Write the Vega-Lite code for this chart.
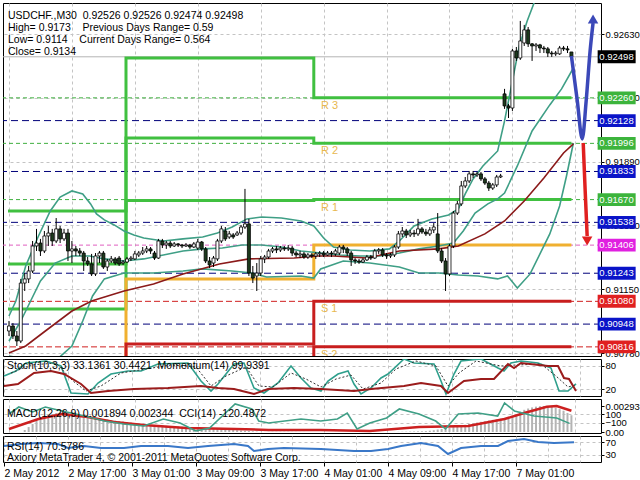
{
"$schema":"https://vega.github.io/schema/vega-lite/v6.json",
"background":"white",
"padding":{"left":2,"top":2,"right":0,"bottom":0},
"spacing":3,
"bounds":"flush",
"config":{
 "view":{"stroke":"#000000","strokeWidth":1},
 "font":"Liberation Sans",
 "axis":{"labelFont":"Liberation Sans","labelFontSize":9.5,"labelColor":"#000000","gridColor":"#c4c4c4","gridDash":[3,3],"domain":false,"tickColor":"#000000","tickSize":3,"labelPadding":1,"zindex":0},
 "title":{"font":"Liberation Sans","fontSize":10.5,"fontWeight":"normal","color":"#000000","anchor":"start","frame":"group","baseline":"top","offset":0,"lineHeight":12}
},
"datasets":{
"candles":[
{"i":0,"o":0.90908,"h":0.90966,"l":0.90879,"c":0.90937,"m":0},
{"i":1,"o":0.90937,"h":0.90954,"l":0.90862,"c":0.90879,"m":0},
{"i":2,"o":0.90879,"h":0.90908,"l":0.90821,"c":0.9085,"m":0},
{"i":3,"o":0.9085,"h":0.9121,"l":0.90838,"c":0.91186,"m":0},
{"i":4,"o":0.91186,"h":0.91244,"l":0.9114,"c":0.9121,"m":0.00023},
{"i":5,"o":0.9121,"h":0.91285,"l":0.91186,"c":0.91256,"m":0.00056},
{"i":6,"o":0.91256,"h":0.9143,"l":0.91244,"c":0.91401,"m":0.0009},
{"i":7,"o":0.91401,"h":0.915,"l":0.91372,"c":0.91418,"m":0.00124},
{"i":8,"o":0.91418,"h":0.91442,"l":0.91343,"c":0.91372,"m":0.00147},
{"i":9,"o":0.91372,"h":0.91488,"l":0.9136,"c":0.91459,"m":0.00169},
{"i":10,"o":0.91459,"h":0.91517,"l":0.91401,"c":0.91476,"m":0.00192},
{"i":11,"o":0.91476,"h":0.915,"l":0.91401,"c":0.9143,"m":0.00203},
{"i":12,"o":0.9143,"h":0.91563,"l":0.91418,"c":0.915,"m":0.00214},
{"i":13,"o":0.915,"h":0.91517,"l":0.91418,"c":0.91442,"m":0.0022},
{"i":14,"o":0.91442,"h":0.915,"l":0.9143,"c":0.91476,"m":0.0022},
{"i":15,"o":0.91476,"h":0.915,"l":0.91314,"c":0.91372,"m":0.00214},
{"i":16,"o":0.91372,"h":0.9143,"l":0.91302,"c":0.91384,"m":0.00208},
{"i":17,"o":0.91384,"h":0.91401,"l":0.91343,"c":0.91372,"m":0.00203},
{"i":18,"o":0.91372,"h":0.91389,"l":0.91343,"c":0.9136,"m":0.00192},
{"i":19,"o":0.9136,"h":0.91372,"l":0.91256,"c":0.91314,"m":0.0018},
{"i":20,"o":0.91314,"h":0.91337,"l":0.91285,"c":0.91297,"m":0.00175},
{"i":21,"o":0.91297,"h":0.91355,"l":0.91227,"c":0.91239,"m":0.00169},
{"i":22,"o":0.91239,"h":0.9136,"l":0.91227,"c":0.91343,"m":0.00158},
{"i":23,"o":0.91343,"h":0.91372,"l":0.91302,"c":0.9136,"m":0.00152},
{"i":24,"o":0.9136,"h":0.91372,"l":0.91268,"c":0.91279,"m":0.00147},
{"i":25,"o":0.91279,"h":0.91326,"l":0.91256,"c":0.91314,"m":0.00141},
{"i":26,"o":0.91314,"h":0.91343,"l":0.91302,"c":0.91326,"m":0.00135},
{"i":27,"o":0.91326,"h":0.91337,"l":0.91291,"c":0.91302,"m":0.0013},
{"i":28,"o":0.91331,"h":0.91343,"l":0.91285,"c":0.91297,"m":0.00124},
{"i":29,"o":0.91302,"h":0.9132,"l":0.91291,"c":0.91308,"m":0.00118},
{"i":30,"o":0.91308,"h":0.91337,"l":0.91302,"c":0.91326,"m":0.00113},
{"i":31,"o":0.91326,"h":0.91343,"l":0.91314,"c":0.91331,"m":0.00107},
{"i":32,"o":0.91326,"h":0.91372,"l":0.9132,"c":0.91355,"m":0.00101},
{"i":33,"o":0.91349,"h":0.91372,"l":0.91337,"c":0.9136,"m":0.00096},
{"i":34,"o":0.9136,"h":0.91395,"l":0.91349,"c":0.91372,"m":0.0009},
{"i":35,"o":0.91372,"h":0.91401,"l":0.9136,"c":0.91384,"m":0.00085},
{"i":36,"o":0.91384,"h":0.91395,"l":0.91355,"c":0.91372,"m":0.00079},
{"i":37,"o":0.9136,"h":0.91372,"l":0.9132,"c":0.91331,"m":0.00079},
{"i":38,"o":0.91331,"h":0.91442,"l":0.91326,"c":0.9143,"m":0.00076},
{"i":39,"o":0.9143,"h":0.91442,"l":0.91389,"c":0.91407,"m":0.00073},
{"i":40,"o":0.91407,"h":0.9143,"l":0.91384,"c":0.91418,"m":0.0007},
{"i":41,"o":0.91418,"h":0.9143,"l":0.91389,"c":0.91401,"m":0.00068},
{"i":42,"o":0.91401,"h":0.91424,"l":0.91395,"c":0.91413,"m":0.00065},
{"i":43,"o":0.91413,"h":0.91418,"l":0.91395,"c":0.91407,"m":0.00062},
{"i":44,"o":0.91407,"h":0.91413,"l":0.91389,"c":0.91401,"m":0.00059},
{"i":45,"o":0.91401,"h":0.91418,"l":0.91395,"c":0.91407,"m":0.00056},
{"i":46,"o":0.91407,"h":0.91413,"l":0.91384,"c":0.91395,"m":0.00054},
{"i":47,"o":0.91395,"h":0.91424,"l":0.91389,"c":0.91413,"m":0.00051},
{"i":48,"o":0.91389,"h":0.91442,"l":0.91378,"c":0.91424,"m":0.00048},
{"i":49,"o":0.91424,"h":0.9143,"l":0.91372,"c":0.91384,"m":0.00045},
{"i":50,"o":0.91384,"h":0.91395,"l":0.91302,"c":0.91314,"m":0.00042},
{"i":51,"o":0.91314,"h":0.91337,"l":0.91273,"c":0.91291,"m":0.00039},
{"i":52,"o":0.91302,"h":0.91343,"l":0.91279,"c":0.91331,"m":0.00037},
{"i":53,"o":0.91326,"h":0.91442,"l":0.91314,"c":0.9143,"m":0.00034},
{"i":54,"o":0.9143,"h":0.91517,"l":0.91418,"c":0.915,"m":0.00031},
{"i":55,"o":0.91488,"h":0.91511,"l":0.9143,"c":0.91442,"m":0.00028},
{"i":56,"o":0.91453,"h":0.91488,"l":0.91442,"c":0.91471,"m":0.00025},
{"i":57,"o":0.91465,"h":0.91476,"l":0.91442,"c":0.91453,"m":0.00023},
{"i":58,"o":0.91465,"h":0.91488,"l":0.91459,"c":0.91476,"m":0.0002},
{"i":59,"o":0.91476,"h":0.91523,"l":0.91465,"c":0.91511,"m":0.00017},
{"i":60,"o":0.91511,"h":0.91732,"l":0.915,"c":0.91529,"m":0.00014},
{"i":61,"o":0.91529,"h":0.91558,"l":0.91227,"c":0.91244,"m":0.00011},
{"i":62,"o":0.91244,"h":0.91285,"l":0.91186,"c":0.91215,"m":0.00008},
{"i":63,"o":0.91227,"h":0.91302,"l":0.9114,"c":0.91244,"m":0.00005},
{"i":64,"o":0.91244,"h":0.91343,"l":0.91227,"c":0.91326,"m":0.00002},
{"i":65,"o":0.91326,"h":0.91349,"l":0.91302,"c":0.91337,"m":0.00001},
{"i":66,"o":0.91337,"h":0.91384,"l":0.91326,"c":0.91372,"m":0.00002},
{"i":67,"o":0.91372,"h":0.91395,"l":0.9136,"c":0.91384,"m":0.00003},
{"i":68,"o":0.91384,"h":0.91401,"l":0.9136,"c":0.91378,"m":0.00003},
{"i":69,"o":0.91378,"h":0.91401,"l":0.91366,"c":0.91389,"m":0.00003},
{"i":70,"o":0.91389,"h":0.91401,"l":0.91372,"c":0.91384,"m":0.00003},
{"i":71,"o":0.91384,"h":0.91407,"l":0.91372,"c":0.91389,"m":0.00003},
{"i":72,"o":0.91389,"h":0.91401,"l":0.91343,"c":0.9136,"m":0.00002},
{"i":73,"o":0.9136,"h":0.91372,"l":0.91337,"c":0.91349,"m":0.00002},
{"i":74,"o":0.91349,"h":0.91372,"l":0.91331,"c":0.91355,"m":0.00001},
{"i":75,"o":0.91355,"h":0.91366,"l":0.91326,"c":0.91337,"m":0.00001},
{"i":76,"o":0.91337,"h":0.9136,"l":0.91326,"c":0.91349,"m":0},
{"i":77,"o":0.91349,"h":0.9136,"l":0.91331,"c":0.91343,"m":0},
{"i":78,"o":0.91343,"h":0.91366,"l":0.91326,"c":0.91355,"m":0},
{"i":79,"o":0.91355,"h":0.91372,"l":0.91337,"c":0.9136,"m":0},
{"i":80,"o":0.9136,"h":0.91372,"l":0.91337,"c":0.91349,"m":0},
{"i":81,"o":0.91349,"h":0.91372,"l":0.91343,"c":0.9136,"m":0},
{"i":82,"o":0.9136,"h":0.91372,"l":0.91337,"c":0.91355,"m":0},
{"i":83,"o":0.91355,"h":0.91384,"l":0.91343,"c":0.91372,"m":0.00001},
{"i":84,"o":0.9136,"h":0.91407,"l":0.91349,"c":0.91395,"m":0.00001},
{"i":85,"o":0.91395,"h":0.91407,"l":0.9136,"c":0.91384,"m":0.00001},
{"i":86,"o":0.91384,"h":0.91395,"l":0.91343,"c":0.9136,"m":0.00001},
{"i":87,"o":0.9136,"h":0.91372,"l":0.91285,"c":0.9132,"m":0},
{"i":88,"o":0.9132,"h":0.91331,"l":0.91297,"c":0.91314,"m":0},
{"i":89,"o":0.91314,"h":0.91326,"l":0.91297,"c":0.91308,"m":0},
{"i":90,"o":0.91308,"h":0.91331,"l":0.91302,"c":0.9132,"m":0},
{"i":91,"o":0.9132,"h":0.91349,"l":0.91314,"c":0.91337,"m":0},
{"i":92,"o":0.91337,"h":0.91349,"l":0.9132,"c":0.91331,"m":0},
{"i":93,"o":0.91331,"h":0.91384,"l":0.91326,"c":0.91372,"m":0},
{"i":94,"o":0.91372,"h":0.91389,"l":0.91355,"c":0.91378,"m":0},
{"i":95,"o":0.91378,"h":0.91389,"l":0.91337,"c":0.91349,"m":0},
{"i":96,"o":0.91349,"h":0.9136,"l":0.91326,"c":0.91343,"m":0},
{"i":97,"o":0.91343,"h":0.9136,"l":0.91331,"c":0.91349,"m":0},
{"i":98,"o":0.91349,"h":0.91407,"l":0.91337,"c":0.91395,"m":0.00001},
{"i":99,"o":0.91395,"h":0.91488,"l":0.91384,"c":0.91471,"m":0.00002},
{"i":100,"o":0.91471,"h":0.91511,"l":0.91453,"c":0.91488,"m":0.00003},
{"i":101,"o":0.91488,"h":0.915,"l":0.91447,"c":0.91465,"m":0.00004},
{"i":102,"o":0.91465,"h":0.91494,"l":0.91453,"c":0.91476,"m":0.00005},
{"i":103,"o":0.91476,"h":0.91494,"l":0.91453,"c":0.91471,"m":0.00006},
{"i":104,"o":0.91471,"h":0.91558,"l":0.91459,"c":0.915,"m":0.00007},
{"i":105,"o":0.915,"h":0.91511,"l":0.91471,"c":0.91482,"m":0.00008},
{"i":106,"o":0.91482,"h":0.915,"l":0.91459,"c":0.91471,"m":0.0001},
{"i":107,"o":0.91471,"h":0.91511,"l":0.91459,"c":0.91494,"m":0.00015},
{"i":108,"o":0.91494,"h":0.91534,"l":0.91476,"c":0.91511,"m":0.0002},
{"i":109,"o":0.91471,"h":0.91592,"l":0.9136,"c":0.91372,"m":0.00028},
{"i":110,"o":0.91372,"h":0.91389,"l":0.91302,"c":0.91314,"m":0.00034},
{"i":111,"o":0.91314,"h":0.91331,"l":0.9114,"c":0.91239,"m":0.0004},
{"i":112,"o":0.91239,"h":0.91413,"l":0.91227,"c":0.91401,"m":0.00048},
{"i":113,"o":0.91401,"h":0.91604,"l":0.91389,"c":0.91592,"m":0.00056},
{"i":114,"o":0.91592,"h":0.91662,"l":0.91581,"c":0.91645,"m":0.00065},
{"i":115,"o":0.91645,"h":0.91778,"l":0.91633,"c":0.91749,"m":0.00073},
{"i":116,"o":0.91749,"h":0.91801,"l":0.91737,"c":0.91778,"m":0.00082},
{"i":117,"o":0.91778,"h":0.91836,"l":0.91766,"c":0.91819,"m":0.0009},
{"i":118,"o":0.91819,"h":0.91836,"l":0.91795,"c":0.91813,"m":0.00098},
{"i":119,"o":0.91813,"h":0.9183,"l":0.91801,"c":0.91819,"m":0.00107},
{"i":120,"o":0.91819,"h":0.9183,"l":0.91778,"c":0.9179,"m":0.00115},
{"i":121,"o":0.9179,"h":0.91801,"l":0.91755,"c":0.91766,"m":0.00122},
{"i":122,"o":0.91766,"h":0.91778,"l":0.9172,"c":0.91737,"m":0.0013},
{"i":123,"o":0.91737,"h":0.91766,"l":0.91726,"c":0.91755,"m":0.00137},
{"i":124,"o":0.91755,"h":0.91813,"l":0.91743,"c":0.91801,"m":0.00144},
{"i":125,"o":0.91801,"h":0.91819,"l":0.91795,"c":0.91807,"m":0.0015},
{"i":126,"o":0.92283,"h":0.92312,"l":0.92196,"c":0.92213,"m":0.0016},
{"i":127,"o":0.92213,"h":0.92225,"l":0.92143,"c":0.92201,"m":0.0017},
{"i":128,"o":0.92201,"h":0.92544,"l":0.92184,"c":0.92532,"m":0.00185},
{"i":129,"o":0.92532,"h":0.92555,"l":0.92474,"c":0.92491,"m":0.002},
{"i":130,"o":0.92491,"h":0.92706,"l":0.9248,"c":0.9259,"m":0.0023},
{"i":131,"o":0.92578,"h":0.92683,"l":0.92561,"c":0.92654,"m":0.0025},
{"i":132,"o":0.92654,"h":0.92671,"l":0.92555,"c":0.92573,"m":0.00265},
{"i":133,"o":0.92573,"h":0.92578,"l":0.92474,"c":0.92561,"m":0.00277},
{"i":134,"o":0.92561,"h":0.92578,"l":0.92532,"c":0.92567,"m":0.00286},
{"i":135,"o":0.92567,"h":0.92573,"l":0.9252,"c":0.92549,"m":0.00291},
{"i":136,"o":0.92549,"h":0.92561,"l":0.9252,"c":0.92544,"m":0.00293},
{"i":137,"o":0.92544,"h":0.92555,"l":0.92497,"c":0.9252,"m":0.0029},
{"i":138,"o":0.9252,"h":0.92532,"l":0.92497,"c":0.92515,"m":0.00283},
{"i":139,"o":0.92515,"h":0.92532,"l":0.92503,"c":0.9252,"m":0.00272},
{"i":140,"o":0.92515,"h":0.92561,"l":0.92509,"c":0.92549,"m":0.00258},
{"i":141,"o":0.92549,"h":0.92561,"l":0.92532,"c":0.92544,"m":0.0024},
{"i":142,"o":0.92544,"h":0.92561,"l":0.9252,"c":0.92538,"m":0.00215},
{"i":143,"o":0.92526,"h":0.92526,"l":0.92474,"c":0.92498,"m":0.00189}
],
"bands":[
{"s":"U","i":0,"p":0.90995},{"s":"U","i":1.75,"p":0.91082},{"s":"U","i":4.25,"p":0.91285},{"s":"U","i":7.5,"p":0.91459},{"s":"U","i":10.5,"p":0.91604},{"s":"U","i":13,"p":0.91685},{"s":"U","i":16,"p":0.9172},{"s":"U","i":18.75,"p":0.91703},{"s":"U","i":20.75,"p":0.91645},{"s":"U","i":22.25,"p":0.91587},{"s":"U","i":24.25,"p":0.91552},{"s":"U","i":26.75,"p":0.91523},{"s":"U","i":29.25,"p":0.91488},{"s":"U","i":31.75,"p":0.91465},{"s":"U","i":34.25,"p":0.91447},{"s":"U","i":39.25,"p":0.9143},{"s":"U","i":44.25,"p":0.91442},{"s":"U","i":49.25,"p":0.91453},{"s":"U","i":53,"p":0.91476},{"s":"U","i":56.75,"p":0.91511},{"s":"U","i":60.5,"p":0.91558},{"s":"U","i":64.25,"p":0.91569},{"s":"U","i":69.25,"p":0.91563},{"s":"U","i":74.25,"p":0.91546},{"s":"U","i":77.5,"p":0.91517},{"s":"U","i":80,"p":0.91447},{"s":"U","i":82.5,"p":0.91395},{"s":"U","i":86.75,"p":0.91378},{"s":"U","i":91.75,"p":0.91372},{"s":"U","i":96.75,"p":0.91384},{"s":"U","i":99.25,"p":0.9143},{"s":"U","i":103,"p":0.91517},{"s":"U","i":107.5,"p":0.91558},{"s":"U","i":111.75,"p":0.91581},{"s":"U","i":114.25,"p":0.91616},{"s":"U","i":116,"p":0.91703},{"s":"U","i":118,"p":0.9179},{"s":"U","i":120.5,"p":0.91865},{"s":"U","i":124.25,"p":0.91952},{"s":"U","i":126,"p":0.92126},{"s":"U","i":128,"p":0.92358},{"s":"U","i":129.75,"p":0.92561},{"s":"U","i":131.75,"p":0.92706},{"s":"U","i":133.5,"p":0.9281},{"s":"U","i":135.5,"p":0.92938},
{"s":"M","i":0,"p":0.9085},{"s":"M","i":3,"p":0.90966},{"s":"M","i":5.5,"p":0.91082},{"s":"M","i":8,"p":0.91198},{"s":"M","i":11.75,"p":0.91302},{"s":"M","i":16,"p":0.91343},{"s":"M","i":20.5,"p":0.91343},{"s":"M","i":24.25,"p":0.91326},{"s":"M","i":29.25,"p":0.91314},{"s":"M","i":34.25,"p":0.91326},{"s":"M","i":39.25,"p":0.91349},{"s":"M","i":44.25,"p":0.91372},{"s":"M","i":49.25,"p":0.91384},{"s":"M","i":54.25,"p":0.91389},{"s":"M","i":59.25,"p":0.91407},{"s":"M","i":64.25,"p":0.91407},{"s":"M","i":69.25,"p":0.91395},{"s":"M","i":74.25,"p":0.91372},{"s":"M","i":79.25,"p":0.9136},{"s":"M","i":84.25,"p":0.91349},{"s":"M","i":89.25,"p":0.91343},{"s":"M","i":94.25,"p":0.91343},{"s":"M","i":99.25,"p":0.9136},{"s":"M","i":104.25,"p":0.91384},{"s":"M","i":109.25,"p":0.91401},{"s":"M","i":113,"p":0.91418},{"s":"M","i":115.5,"p":0.91488},{"s":"M","i":118.5,"p":0.91592},{"s":"M","i":121.75,"p":0.91645},{"s":"M","i":124.25,"p":0.91674},{"s":"M","i":126,"p":0.91708},{"s":"M","i":129.25,"p":0.91865},{"s":"M","i":133,"p":0.92068},{"s":"M","i":137.5,"p":0.92219},{"s":"M","i":140.5,"p":0.92312},{"s":"M","i":143.5,"p":0.92433},
{"s":"L","i":0,"p":0.90763},{"s":"L","i":6.75,"p":0.90734},{"s":"L","i":11.75,"p":0.90734},{"s":"L","i":16,"p":0.90821},{"s":"L","i":18.75,"p":0.90966},{"s":"L","i":21.25,"p":0.91111},{"s":"L","i":24.25,"p":0.9121},{"s":"L","i":29.25,"p":0.91244},{"s":"L","i":36.75,"p":0.91244},{"s":"L","i":44.25,"p":0.91256},{"s":"L","i":49.25,"p":0.91268},{"s":"L","i":56.75,"p":0.91256},{"s":"L","i":61.75,"p":0.91244},{"s":"L","i":65.5,"p":0.91221},{"s":"L","i":74.25,"p":0.91227},{"s":"L","i":77.5,"p":0.91215},{"s":"L","i":79.25,"p":0.91268},{"s":"L","i":85,"p":0.91314},{"s":"L","i":91.75,"p":0.91302},{"s":"L","i":99.25,"p":0.91279},{"s":"L","i":104.25,"p":0.91244},{"s":"L","i":109.25,"p":0.91244},{"s":"L","i":114.25,"p":0.91233},{"s":"L","i":119.25,"p":0.91227},{"s":"L","i":124.25,"p":0.9121},{"s":"L","i":126.75,"p":0.91227},{"s":"L","i":129.25,"p":0.91157},{"s":"L","i":132.5,"p":0.91239},{"s":"L","i":137.5,"p":0.91471},{"s":"L","i":140,"p":0.91633},{"s":"L","i":141.75,"p":0.91807},{"s":"L","i":143.5,"p":0.91998},
{"s":"MA","i":0,"p":0.9078},{"s":"MA","i":4.25,"p":0.90821},{"s":"MA","i":9.25,"p":0.90908},{"s":"MA","i":16,"p":0.91024},{"s":"MA","i":21,"p":0.91082},{"s":"MA","i":29.25,"p":0.9114},{"s":"MA","i":36.75,"p":0.91181},{"s":"MA","i":44.25,"p":0.91239},{"s":"MA","i":53.5,"p":0.91297},{"s":"MA","i":61,"p":0.91326},{"s":"MA","i":72.5,"p":0.91331},{"s":"MA","i":78.5,"p":0.91343},{"s":"MA","i":82.5,"p":0.91343},{"s":"MA","i":91,"p":0.91331},{"s":"MA","i":99.25,"p":0.91372},{"s":"MA","i":109.25,"p":0.91384},{"s":"MA","i":114.25,"p":0.91401},{"s":"MA","i":121,"p":0.91471},{"s":"MA","i":126,"p":0.91546},{"s":"MA","i":131,"p":0.91662},{"s":"MA","i":136,"p":0.91795},{"s":"MA","i":141,"p":0.9194},{"s":"MA","i":143.5,"p":0.91993}
],
"pivots":[
{"lvl":"R3","i":-0.25,"p":0.91604},{"lvl":"R3","i":29.75,"p":0.92491},{"lvl":"R3","i":77.5,"p":0.9226},{"lvl":"R3","i":143,"p":0.9226},
{"lvl":"R2","i":-0.25,"p":0.91297},{"lvl":"R2","i":29.75,"p":0.92027},{"lvl":"R2","i":77.5,"p":0.91996},{"lvl":"R2","i":143,"p":0.91996},
{"lvl":"R1","i":-0.25,"p":0.91036},{"lvl":"R1","i":29.75,"p":0.91665},{"lvl":"R1","i":77.5,"p":0.9167},{"lvl":"R1","i":143,"p":0.9167},
{"lvl":"P","i":-0.25,"p":0.906},{"lvl":"P","i":29.75,"p":0.9121},{"lvl":"P","i":77.5,"p":0.91406},{"lvl":"P","i":143,"p":0.91406},
{"lvl":"S1","i":-0.25,"p":0.904},{"lvl":"S1","i":29.75,"p":0.90833},{"lvl":"S1","i":77.5,"p":0.9108},{"lvl":"S1","i":143,"p":0.9108},
{"lvl":"S2","i":-0.25,"p":0.902},{"lvl":"S2","i":29.75,"p":0.904},{"lvl":"S2","i":77.5,"p":0.90816},{"lvl":"S2","i":143,"p":0.90816}
],
"levels":[
{"kind":"bid","p":0.92498},{"kind":"R","p":0.9226},{"kind":"M","p":0.92128},{"kind":"R","p":0.91996},{"kind":"M","p":0.91833},{"kind":"R","p":0.9167},{"kind":"M","p":0.91538},{"kind":"P","p":0.91406},{"kind":"M","p":0.91243},{"kind":"S","p":0.9108},{"kind":"M","p":0.90948},{"kind":"S","p":0.90816}
],
"plabels":[{"t":"R 3","p":0.9226},{"t":"R 2","p":0.91996},{"t":"R 1","p":0.9167},{"t":"S 1","p":0.9108},{"t":"S 2","p":0.90816}],
"arrows":[
{"s":"up","i":143,"p":0.92503},{"s":"up","i":144.5,"p":0.92242},{"s":"up","i":145.75,"p":0.92022},{"s":"up","i":146.75,"p":0.92242},{"s":"up","i":147.75,"p":0.92532},{"s":"up","i":148.5,"p":0.92694},
{"s":"down","i":146,"p":0.91998},{"s":"down","i":146.5,"p":0.9172},{"s":"down","i":147,"p":0.91459}
],
"heads":[{"s":"up","i":148.5,"p":0.92717},{"s":"down","i":147,"p":0.9143}],
"stochK":[
{"i":0,"v":53.2},{"i":3,"v":66},{"i":5.5,"v":86.4},{"i":10.5,"v":91.5},{"i":14.25,"v":78.7},{"i":16.75,"v":9.8},{"i":21,"v":7.2},{"i":23.5,"v":35.3},{"i":26.75,"v":58.3},{"i":31,"v":66},{"i":34.25,"v":66},{"i":38.5,"v":83.8},{"i":46,"v":86.4},{"i":49.25,"v":40.4},{"i":51.75,"v":14.9},{"i":53.5,"v":32.8},{"i":57.5,"v":83.8},{"i":60,"v":86.4},{"i":62.5,"v":22.6},{"i":65,"v":9.8},{"i":68.5,"v":35.3},{"i":71.75,"v":78.7},{"i":74.25,"v":48.1},{"i":76.75,"v":22.6},{"i":79.25,"v":14.9},{"i":81,"v":40.4},{"i":83.5,"v":58.3},{"i":86,"v":66},{"i":87.5,"v":32.8},{"i":89.25,"v":7.2},{"i":91.75,"v":22.6},{"i":94.25,"v":48.1},{"i":96,"v":58.3},{"i":100,"v":96.6},{"i":102.5,"v":86.4},{"i":107.5,"v":83.8},{"i":109.25,"v":40.4},{"i":110.5,"v":7.2},{"i":112.5,"v":58.3},{"i":114.25,"v":91.5},{"i":119.25,"v":96.6},{"i":123.5,"v":73.6},{"i":125,"v":66},{"i":126.75,"v":86.4},{"i":129.25,"v":91.5},{"i":133.5,"v":86.4},{"i":136.75,"v":73.6},{"i":138.75,"v":14.9},{"i":141,"v":14.9},{"i":143,"v":33.1361}
],
"stochD":[
{"i":1.75,"v":60.9},{"i":6.75,"v":81.3},{"i":13,"v":86.4},{"i":17.25,"v":40.4},{"i":20.5,"v":14.9},{"i":24.25,"v":27.7},{"i":29.25,"v":60.9},{"i":35.5,"v":71.1},{"i":41.75,"v":81.3},{"i":48,"v":76.2},{"i":51.75,"v":27.7},{"i":55.5,"v":53.2},{"i":60.5,"v":76.2},{"i":63.75,"v":27.7},{"i":67.25,"v":25.1},{"i":71.75,"v":60.9},{"i":75.5,"v":45.5},{"i":79.25,"v":25.1},{"i":83,"v":45.5},{"i":86.75,"v":55.7},{"i":89.75,"v":20},{"i":94.25,"v":35.3},{"i":98,"v":71.1},{"i":103,"v":91.5},{"i":108,"v":78.7},{"i":111,"v":27.7},{"i":113.75,"v":60.9},{"i":118,"v":91.5},{"i":124.25,"v":78.7},{"i":128,"v":81.3},{"i":134.25,"v":83.8},{"i":138,"v":53.2},{"i":141,"v":25.1},{"i":143,"v":30.4421}
],
"mom":[
{"i":0,"v":100.039},{"i":3.5,"v":100.079},{"i":7.5,"v":100.299},{"i":11.75,"v":100.339},{"i":15,"v":100.279},{"i":19.25,"v":100.079},{"i":21.75,"v":99.899},{"i":26,"v":99.939},{"i":32.5,"v":99.979},{"i":41,"v":99.999},{"i":49.25,"v":100.039},{"i":53.5,"v":99.999},{"i":57.5,"v":99.979},{"i":62.5,"v":99.879},{"i":66,"v":99.979},{"i":72.5,"v":99.999},{"i":79.25,"v":99.979},{"i":87.5,"v":99.939},{"i":91.75,"v":99.979},{"i":100,"v":100.039},{"i":104.25,"v":100.099},{"i":109.25,"v":100.039},{"i":111,"v":99.899},{"i":115,"v":100.139},{"i":119.25,"v":100.179},{"i":122.5,"v":100.179},{"i":126,"v":100.479},{"i":127.5,"v":100.399},{"i":129.25,"v":100.499},{"i":136,"v":100.439},{"i":138.5,"v":100.439},{"i":140,"v":100.199},{"i":141.25,"v":100.179},{"i":143,"v":99.9391}
],
"sig":[
{"i":0,"v":0.00034},{"i":7.5,"v":0.00147},{"i":13.5,"v":0.00203},{"i":20,"v":0.00169},{"i":26.75,"v":0.00113},{"i":34.25,"v":0.00079},{"i":45,"v":0.00045},{"i":57.5,"v":0.00034},{"i":66,"v":0.00023},{"i":79.25,"v":0.00023},{"i":91.75,"v":0.00011},{"i":104.25,"v":0.00056},{"i":116.75,"v":0.00068},{"i":126,"v":0.00147},{"i":131,"v":0.00214},{"i":136.75,"v":0.00285},{"i":139.25,"v":0.00293},{"i":143,"v":0.0024}
],
"cci":[
{"i":0,"v":100},{"i":2.5,"v":265},{"i":6,"v":147},{"i":9.25,"v":265},{"i":13.5,"v":171},{"i":19.25,"v":53},{"i":24.25,"v":-65},{"i":29.25,"v":-135},{"i":34.25,"v":-182},{"i":39.25,"v":-18},{"i":43.5,"v":-112},{"i":47.5,"v":-300},{"i":51,"v":-229},{"i":57.5,"v":335},{"i":61.75,"v":218},{"i":63.5,"v":-65},{"i":66,"v":-112},{"i":74.25,"v":-18},{"i":79.25,"v":-65},{"i":83.5,"v":-18},{"i":86,"v":124},{"i":88.5,"v":-253},{"i":91.75,"v":-112},{"i":96,"v":6},{"i":99.25,"v":218},{"i":104.25,"v":100},{"i":108.5,"v":-65},{"i":111,"v":-253},{"i":114.25,"v":100},{"i":119.25,"v":124},{"i":124.25,"v":53},{"i":126,"v":359},{"i":128.5,"v":171},{"i":133.5,"v":53},{"i":139.25,"v":6},{"i":142.5,"v":-120.4872}
],
"rsi":[
{"i":0,"v":58.3},{"i":4.25,"v":65},{"i":8.5,"v":68.3},{"i":13.5,"v":65},{"i":16,"v":51.7},{"i":20,"v":58.3},{"i":24.25,"v":51.7},{"i":30,"v":51.7},{"i":34.25,"v":58.3},{"i":41,"v":58.3},{"i":46,"v":51.7},{"i":51,"v":58.3},{"i":57.5,"v":65},{"i":61,"v":58.3},{"i":62.5,"v":41.7},{"i":66,"v":48.4},{"i":70,"v":51.7},{"i":79.25,"v":48.4},{"i":87.5,"v":41.7},{"i":91.75,"v":41.7},{"i":96,"v":48.4},{"i":99.25,"v":58.3},{"i":104.25,"v":68.3},{"i":108.5,"v":58.3},{"i":111,"v":31.7},{"i":114.25,"v":51.7},{"i":119.25,"v":58.3},{"i":123.5,"v":58.3},{"i":126,"v":75},{"i":130,"v":81.7},{"i":133.5,"v":71.7},{"i":137.5,"v":68.3},{"i":142.5,"v":70.5786}
]
},
"vconcat":[
{
 "width":598,"height":353,
 "title":{"text":["USDCHF.,M30\u00a0\u00a00.92526 0.92526 0.92474 0.92498","High= 0.9173\u00a0\u00a0\u00a0\u00a0Previous Days Range= 0.59","Low= 0.9114\u00a0\u00a0\u00a0\u00a0Current Days Range= 0.564","Close= 0.9134"],"dx":5,"dy":2,"offset":-52},
 "resolve":{"scale":{"color":"independent","strokeDash":"independent","shape":"independent","strokeWidth":"independent"}},
 "layer":[
  {"data":{"name":"levels"},"mark":{"type":"rule","strokeWidth":1},
   "encoding":{
    "y":{"field":"p","type":"quantitative","scale":{"domain":[0.90763,0.9281],"nice":false,"zero":false},"axis":{"orient":"right","values":[0.9078,0.90965,0.9115,0.91335,0.9152,0.91705,0.9189,0.92075,0.9226,0.92445,0.9263],"format":".5f","title":null,"grid":true}},
    "color":{"field":"kind","type":"nominal","scale":{"domain":["bid","R","M","P","S"],"range":["#b4b4b4","#40b040","#00007a","#e060c0","#d02020"]},"legend":null},
    "strokeDash":{"field":"kind","type":"nominal","scale":{"domain":["bid","R","M","P","S"],"range":[[1,0],[4,3],[7,4],[4,3],[6,3]]},"legend":null}}},
  {"data":{"name":"pivots"},"mark":{"type":"line","interpolate":"step-after","strokeWidth":3,"clip":true},
   "encoding":{
    "x":{"field":"i","type":"quantitative","scale":{"domain":[-0.25,149.25],"nice":false,"zero":false},"axis":{"values":[0,8,16,24,32,40,48,56,64,72,80,88,96,104,112,120,128,136,144],"labels":false,"ticks":false,"grid":true,"title":null}},
    "y":{"field":"p","type":"quantitative","scale":{"domain":[0.90763,0.9281],"nice":false,"zero":false}},
    "color":{"field":"lvl","type":"nominal","scale":{"domain":["R3","R2","R1","P","S1","S2"],"range":["#40c040","#40c040","#40c040","#f0b030","#c81e1e","#c81e1e"]},"legend":null}}},
  {"data":{"name":"plabels"},"mark":{"type":"text","align":"left","baseline":"middle","dy":8,"fontSize":11,"color":"#e8b850","font":"Liberation Sans","clip":true},
   "encoding":{
    "x":{"datum":79.3,"type":"quantitative","scale":{"domain":[-0.25,149.25],"nice":false,"zero":false}},
    "y":{"field":"p","type":"quantitative","scale":{"domain":[0.90763,0.9281],"nice":false,"zero":false}},
    "text":{"field":"t","type":"nominal"}}},
  {"data":{"name":"bands"},"mark":{"type":"line","clip":true},
   "encoding":{
    "x":{"field":"i","type":"quantitative","scale":{"domain":[-0.25,149.25],"nice":false,"zero":false}},
    "y":{"field":"p","type":"quantitative","scale":{"domain":[0.90763,0.9281],"nice":false,"zero":false}},
    "color":{"field":"s","type":"nominal","scale":{"domain":["U","M","L","MA"],"range":["#3f9f86","#3f9f86","#3f9f86","#8b1a1a"]},"legend":null},
    "strokeWidth":{"field":"s","type":"nominal","scale":{"domain":["U","M","L","MA"],"range":[1.6,1.6,1.6,2.2]},"legend":null}}},
  {"data":{"name":"candles"},"mark":{"type":"rule","color":"#000000","strokeWidth":1},
   "encoding":{
    "x":{"field":"i","type":"quantitative","scale":{"domain":[-0.25,149.25],"nice":false,"zero":false}},
    "y":{"field":"l","type":"quantitative","scale":{"domain":[0.90763,0.9281],"nice":false,"zero":false}},
    "y2":{"field":"h"}}},
  {"data":{"name":"candles"},"mark":{"type":"bar","width":3,"stroke":"#000000","strokeWidth":0.8},
   "encoding":{
    "x":{"field":"i","type":"quantitative","scale":{"domain":[-0.25,149.25],"nice":false,"zero":false}},
    "y":{"field":"o","type":"quantitative","scale":{"domain":[0.90763,0.9281],"nice":false,"zero":false}},
    "y2":{"field":"c"},
    "fill":{"condition":{"test":"datum.c >= datum.o","value":"#ffffff"},"value":"#1c3a1c"}}},
  {"data":{"name":"arrows"},"mark":{"type":"line","strokeWidth":3.5,"interpolate":"monotone"},
   "encoding":{
    "x":{"field":"i","type":"quantitative","scale":{"domain":[-0.25,149.25],"nice":false,"zero":false}},
    "y":{"field":"p","type":"quantitative","scale":{"domain":[0.90763,0.9281],"nice":false,"zero":false}},
    "color":{"field":"s","type":"nominal","scale":{"domain":["up","down"],"range":["#3b48b8","#e02020"]},"legend":null}}},
  {"data":{"name":"heads"},"mark":{"type":"point","filled":true,"opacity":1,"size":110},
   "encoding":{
    "x":{"field":"i","type":"quantitative","scale":{"domain":[-0.25,149.25],"nice":false,"zero":false}},
    "y":{"field":"p","type":"quantitative","scale":{"domain":[0.90763,0.9281],"nice":false,"zero":false}},
    "shape":{"field":"s","type":"nominal","scale":{"domain":["up","down"],"range":["triangle-up","triangle-down"]},"legend":null},
    "color":{"field":"s","type":"nominal","scale":{"domain":["up","down"],"range":["#3b48b8","#e02020"]},"legend":null}}},
  {"data":{"name":"levels"},"mark":{"type":"point","filled":true,"opacity":1,"size":1444,"shape":"M-1,-0.34L1,-0.34L1,0.34L-1,0.34Z","strokeWidth":0},
   "encoding":{
    "x":{"datum":154.5,"type":"quantitative","scale":{"domain":[-0.25,149.25],"nice":false,"zero":false}},
    "y":{"field":"p","type":"quantitative","scale":{"domain":[0.90763,0.9281],"nice":false,"zero":false}},
    "color":{"field":"kind","type":"nominal","scale":{"domain":["bid","R","M","P","S"],"range":["#000000","#3cb43c","#0a14c8","#e020e0","#e02020"]},"legend":null}}},
  {"data":{"name":"levels"},"mark":{"type":"text","align":"left","baseline":"middle","color":"#ffffff","fontSize":9.5,"font":"Liberation Sans"},
   "encoding":{
    "x":{"datum":150.1,"type":"quantitative","scale":{"domain":[-0.25,149.25],"nice":false,"zero":false}},
    "y":{"field":"p","type":"quantitative","scale":{"domain":[0.90763,0.9281],"nice":false,"zero":false}},
    "text":{"field":"p","type":"quantitative","format":".5f"}}}
 ]
},
{
 "width":598,"height":37,
 "title":{"text":"Stoch(10,3,3) 33.1361 30.4421\u00a0\u00a0Momentum(14) 99.9391","dx":4,"dy":3,"offset":-9},
 "resolve":{"scale":{"y":"independent"},"axis":{"y":"independent"}},
 "layer":[
  {"data":{"name":"stochK"},"mark":{"type":"line","color":"#2f9f8c","strokeWidth":1.6,"clip":true},
   "encoding":{
    "x":{"field":"i","type":"quantitative","scale":{"domain":[-0.25,149.25],"nice":false,"zero":false},"axis":{"values":[0,8,16,24,32,40,48,56,64,72,80,88,96,104,112,120,128,136,144],"labels":false,"ticks":false,"grid":true,"title":null}},
    "y":{"field":"v","type":"quantitative","scale":{"domain":[2.13,96.6],"nice":false,"zero":false},"axis":{"orient":"right","values":[20,80],"title":null,"grid":true}}}},
  {"data":{"name":"stochD"},"mark":{"type":"line","color":"#303030","strokeWidth":1,"strokeDash":[2,2],"clip":true},
   "encoding":{
    "x":{"field":"i","type":"quantitative","scale":{"domain":[-0.25,149.25],"nice":false,"zero":false}},
    "y":{"field":"v","type":"quantitative","scale":{"domain":[2.13,96.6],"nice":false,"zero":false},"axis":null}}},
  {"data":{"name":"mom"},"mark":{"type":"line","color":"#9b1c1c","strokeWidth":2,"clip":true},
   "encoding":{
    "x":{"field":"i","type":"quantitative","scale":{"domain":[-0.25,149.25],"nice":false,"zero":false}},
    "y":{"field":"v","type":"quantitative","scale":{"domain":[99.839,100.579],"nice":false,"zero":false},"axis":null}}}
 ]
},
{
 "width":598,"height":34,
 "title":{"text":"MACD(12,26,9) 0.001894 0.002344\u00a0\u00a0CCI(14) -120.4872","dx":4,"dy":4,"offset":-16},
 "resolve":{"scale":{"y":"independent"},"axis":{"y":"independent"}},
 "layer":[
  {"data":{"name":"candles"},"mark":{"type":"bar","width":2,"color":"#b4b4b4"},
   "encoding":{
    "x":{"field":"i","type":"quantitative","scale":{"domain":[-0.25,149.25],"nice":false,"zero":false},"axis":{"values":[0,8,16,24,32,40,48,56,64,72,80,88,96,104,112,120,128,136,144],"labels":false,"ticks":false,"grid":true,"title":null}},
    "y":{"field":"m","type":"quantitative","scale":{"domain":[-0.00011,0.00372],"nice":false,"zero":false},"axis":{"orient":"right","values":[0.00293,0],"labelExpr":"datum.value == 0 ? '0.00' : format(datum.value, '.5f')","title":null,"grid":false}},
    "y2":{"datum":0}}},
  {"data":{"name":"sig"},"mark":{"type":"line","color":"#cc2020","strokeWidth":2.5,"clip":true},
   "encoding":{
    "x":{"field":"i","type":"quantitative","scale":{"domain":[-0.25,149.25],"nice":false,"zero":false}},
    "y":{"field":"v","type":"quantitative","scale":{"domain":[-0.00011,0.00372],"nice":false,"zero":false},"axis":null}}},
  {"data":{"name":"cci"},"mark":{"type":"line","color":"#3f9f86","strokeWidth":1.6,"clip":true},
   "encoding":{
    "x":{"field":"i","type":"quantitative","scale":{"domain":[-0.25,149.25],"nice":false,"zero":false}},
    "y":{"field":"v","type":"quantitative","scale":{"domain":[-347,453],"nice":false,"zero":false},"axis":{"orient":"right","values":[100,-100],"title":null,"grid":true}}}}
 ]
},
{
 "width":598,"height":26,
 "title":{"text":["RSI(14) 70.5786","Axiory MetaTrader 4, © 2001-2011 MetaQuotes Software Corp."],"dx":4,"dy":4,"lineHeight":11,"offset":-23},
 "layer":[
  {"data":{"name":"rsi"},"mark":{"type":"line","color":"#3a78c8","strokeWidth":2,"clip":true},
   "encoding":{
    "x":{"field":"i","type":"quantitative","scale":{"domain":[-0.25,149.25],"nice":false,"zero":false},"axis":{"values":[0,8,16,24,32,40,48,56,64,72,80,88,96,104,112,120,128,136,144],"grid":true,"title":null,"labelAlign":"left","labelFontSize":10.5,"labelPadding":2,"tickSize":4,"tickOpacity":{"condition":{"test":"datum.value % 16 == 0 && datum.value < 144","value":1},"value":0},"labelOverlap":false,"labelBound":false,"labelFlush":false,"labelExpr":"datum.value==0?'2 May 2012':datum.value==16?'2 May 17:00':datum.value==32?'3 May 01:00':datum.value==48?'3 May 09:00':datum.value==64?'3 May 17:00':datum.value==80?'4 May 01:00':datum.value==96?'4 May 09:00':datum.value==112?'4 May 17:00':datum.value==128?'7 May 01:00':''"}},
    "y":{"field":"v","type":"quantitative","scale":{"domain":[5.1,91.6],"nice":false,"zero":false},"axis":{"orient":"right","values":[30,70],"title":null,"grid":true}}}}
 ]
}
]
}
